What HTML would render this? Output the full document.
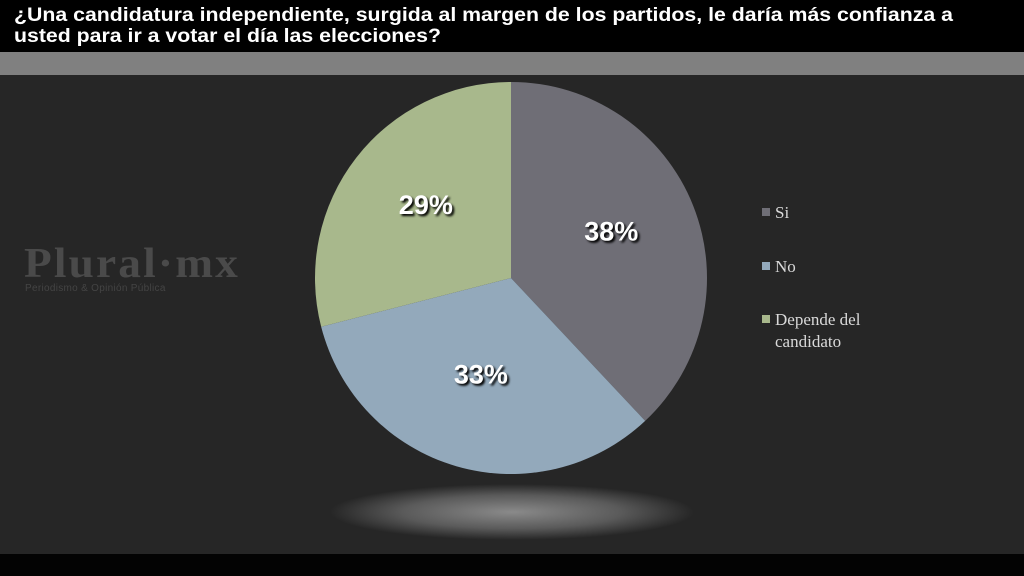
<!DOCTYPE html>
<html><head><meta charset="utf-8"><style>
body{margin:0;width:1024px;height:576px;overflow:hidden;background:#262626;font-family:"Liberation Sans",sans-serif}
#hdr{position:absolute;left:0;top:0;width:1024px;height:52px;background:#000}
#hdrt{position:absolute;left:14px;top:5px;color:#fff;font-weight:bold;font-size:19px;line-height:21px;white-space:nowrap;transform:scaleX(1.12);transform-origin:left top}
#band{position:absolute;left:0;top:52px;width:1024px;height:23px;background:#808080}
#foot{position:absolute;left:0;top:554px;width:1024px;height:22px;background:#030303}
#logo{position:absolute;left:24px;top:244px;color:#4a4a4a;font-family:"Liberation Serif",serif;font-weight:bold;font-size:42px;line-height:40px;letter-spacing:2px;transform:scaleX(1.08);transform-origin:left}
#logo2{position:absolute;left:25px;top:283px;color:#444;font-size:10px;letter-spacing:0.3px}
</style></head><body>
<div id="hdr"><div id="hdrt">¿Una candidatura independiente, surgida al margen de los partidos, le daría más confianza a<br>usted para ir a votar el día las elecciones?</div></div>
<div id="band"></div>
<div id="logo">Plural·mx</div>
<div id="logo2">Periodismo &amp; Opinión Pública</div>
<svg id="chart" width="1024" height="576" style="position:absolute;left:0;top:0">
<defs><radialGradient id="glow" cx="50%" cy="50%" r="50%"><stop offset="0" stop-color="#8a8a8a"/><stop offset="0.6" stop-color="#5a5a5a"/><stop offset="1" stop-color="#262626"/></radialGradient></defs>
<ellipse cx="512" cy="512" rx="182" ry="28" fill="url(#glow)"/>
<g id="slices"></g><g id="labels"></g><g id="legend"></g>
</svg>
<div id="foot"></div>
<script>
const categories=["Si","No","Depende del candidato"];
const values=[38,33,29];
const labels=["38%","33%","29%"];
const colors=["#6f6e76","#93a9bb","#a8b88c"];
const cx=511,cy=278,r=196,ns="http://www.w3.org/2000/svg";
const total=values.reduce((a,b)=>a+b,0);
const sG=document.getElementById('slices'),lG=document.getElementById('labels'),gG=document.getElementById('legend');
let a0=-Math.PI/2;
values.forEach((v,i)=>{
 const a1=a0+v/total*2*Math.PI;
 const p=document.createElementNS(ns,'path');
 const x0=cx+r*Math.cos(a0),y0=cy+r*Math.sin(a0),x1=cx+r*Math.cos(a1),y1=cy+r*Math.sin(a1);
 p.setAttribute('d',`M${cx},${cy}L${x0},${y0}A${r},${r} 0 ${a1-a0>Math.PI?1:0} 1 ${x1},${y1}Z`);
 p.setAttribute('fill',colors[i]);
 
 
 sG.appendChild(p);
 const am=(a0+a1)/2,lr=r*0.55;
 const t=document.createElementNS(ns,'text');
 t.setAttribute('x',cx+lr*Math.cos(am));t.setAttribute('y',cy+lr*Math.sin(am)+2);
 t.setAttribute('text-anchor','middle');t.setAttribute('fill','#fff');t.setAttribute('font-weight','bold');t.setAttribute('font-size','27');
 t.setAttribute('font-family','Liberation Sans, sans-serif');t.setAttribute('style','text-shadow:2px 2px 2px #000');
 t.textContent=labels[i];
 
 
 lG.appendChild(t);
 a0=a1;
});
const legY=[213,267,320];
categories.forEach((c,i)=>{
 const rc=document.createElementNS(ns,'rect');
 rc.setAttribute('x',762);rc.setAttribute('y',legY[i]-5);rc.setAttribute('width',8);rc.setAttribute('height',8);rc.setAttribute('fill',colors[i]);
 
 
 gG.appendChild(rc);
 const t=document.createElementNS(ns,'text');
 t.setAttribute('x',775);t.setAttribute('y',legY[i]+5);t.setAttribute('fill','#d9d9d9');t.setAttribute('font-size','17');
 t.setAttribute('font-family','Liberation Serif, serif');
 
 
 if(c==="Depende del candidato"){t.innerHTML='<tspan x="775">Depende del</tspan><tspan x="775" dy="22">candidato</tspan>';}else t.textContent=c;
 gG.appendChild(t);
});
</script>
</body></html>
